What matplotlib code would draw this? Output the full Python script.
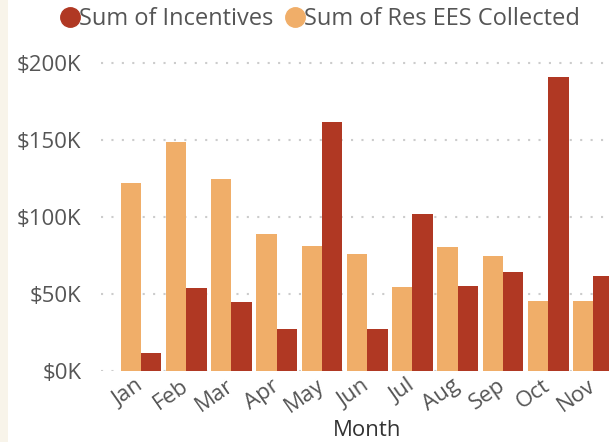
import matplotlib
matplotlib.use("Agg")
import matplotlib.pyplot as plt
from matplotlib.lines import Line2D
import matplotlib.patches as mpatches
import matplotlib.transforms as mtransforms
import numpy as np

months = ["Jan", "Feb", "Mar", "Apr", "May", "Jun", "Jul", "Aug", "Sep", "Oct", "Nov"]
res_ees_collected = [122, 149, 125, 89, 81, 76, 54.5, 80.5, 74.7, 45.5, 45.5]  # $K
incentives = [11.7, 53.6, 44.8, 27.3, 161.7, 27.3, 102, 55.2, 64.3, 191, 61.7]  # $K
yticks = [0, 50, 100, 150, 200]

ORANGE = "#F0AE69"
RED = "#B03823"
TXT = "#555555"

plt.rcParams['font.family'] = ['Open Sans', 'DejaVu Sans']

W, H = 609, 442
fig = plt.figure(figsize=(W / 100, H / 100), dpi=100)
fig.patch.set_facecolor("white")
fig.add_artist(mpatches.Rectangle((0, 0), 8 / W, 1, transform=fig.transFigure,
                                  facecolor="#F8F4EA", edgecolor="none", zorder=0))

left, right = 101, 609
bottom_px, top_px = 371, 47.6
ax = fig.add_axes([left / W, 1 - bottom_px / H, (right - left) / W, (bottom_px - top_px) / H])
ax.set_facecolor("white")

x = np.arange(len(months))
bw = 0.452
ax.bar(x - bw / 2, res_ees_collected, width=bw, color=ORANGE, zorder=3)
ax.bar(x + bw / 2, incentives, width=bw, color=RED, zorder=3)

ax.set_xlim(-0.884, 10.343)
ax.set_ylim(0, 210)
ax.set_yticks(yticks)
ax.set_yticklabels([f"${v}K" for v in yticks], fontsize=16, color=TXT)
ax.yaxis.grid(True, color="#CCCCCC", linestyle=(0, (1, 4)), linewidth=1.5)
ax.set_axisbelow(True)
ax.tick_params(axis="y", length=0, pad=14)
ax.tick_params(axis="x", length=0, pad=3)
ax.set_xticks(x)
ax.set_xticklabels(months, fontsize=16, color=TXT, rotation=35, ha="right",
                   rotation_mode="anchor")
off = mtransforms.ScaledTranslation(-6 / 100, 0, fig.dpi_scale_trans)
for lbl in ax.get_xticklabels():
    lbl.set_transform(lbl.get_transform() + off)
for s in ax.spines.values():
    s.set_visible(False)

fig.text(367 / W, 1 - 431 / H, "Month", ha="center", va="center", fontsize=16, color="#333333")

handles = [Line2D([], [], marker="o", linestyle="none", markersize=14, color=RED),
           Line2D([], [], marker="o", linestyle="none", markersize=14, color=ORANGE)]
fig.legend(handles, ["Sum of Incentives", "Sum of Res EES Collected"], loc="center",
           bbox_to_anchor=(318 / W, 1 - 19 / H), ncol=2, frameon=False, fontsize=17,
           handletextpad=-0.2, columnspacing=0.3, labelcolor=TXT, handlelength=1.2)

fig.savefig("out.png", dpi=100)
